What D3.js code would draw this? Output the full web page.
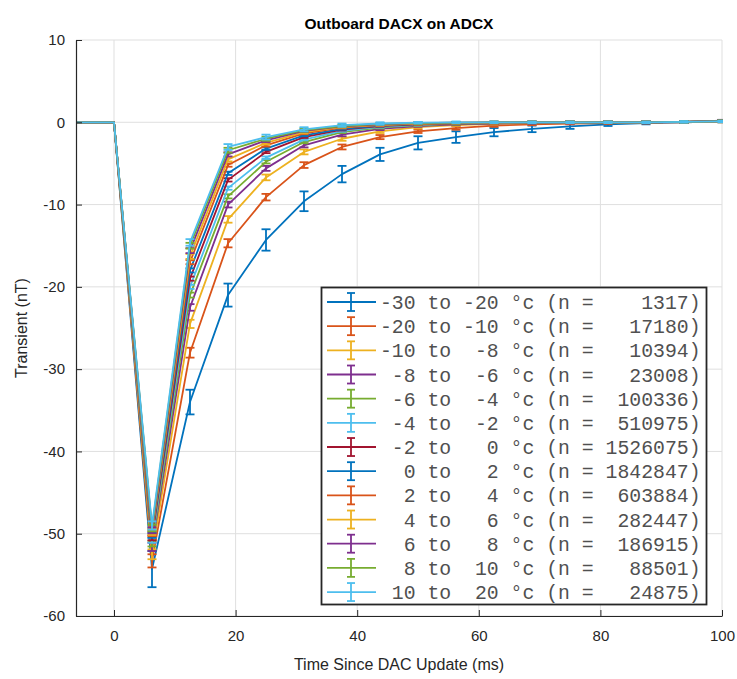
<!DOCTYPE html>
<html><head><meta charset="utf-8">
<script src="https://cdn.jsdelivr.net/npm/d3@7"></script>
<style>
html,body{margin:0;padding:0;background:#fff;}
svg{display:block;}
</style>
</head><body>
<svg id="chart" width="737" height="679"></svg>
<script>
// ---------- DATA ----------
const title = "Outboard DACX on ADCX";
const xLabel = "Time Since DAC Update (ms)";
const yLabel = "Transient (nT)";
const xTicks = [0, 20, 40, 60, 80, 100];
const yTicks = [10, 0, -10, -20, -30, -40, -50, -60];
const times = [-6.25, 0, 6.25, 12.5, 18.75, 25, 31.25, 37.5, 43.75, 50, 56.25, 62.5, 68.75, 75, 81.25, 87.5, 93.75, 100];

const rangeLabels = ["-30 to -20", "-20 to -10", "-10 to  -8", " -8 to  -6", " -6 to  -4", " -4 to  -2", " -2 to   0",
                     "  0 to   2", "  2 to   4", "  4 to   6", "  6 to   8", "  8 to  10", " 10 to  20"];
const counts = [1317, 17180, 10394, 23008, 100336, 510975, 1526075, 1842847, 603884, 282447, 186915, 88501, 24875];
const colors = ["#0072BD", "#D95319", "#EDB120", "#7E2F8E", "#77AC30", "#4DBEEE", "#A2142F",
                "#0072BD", "#D95319", "#EDB120", "#7E2F8E", "#77AC30", "#4DBEEE"];

const means = [
  [0, 0, -54.3, -34.0, -21.0, -14.3, -9.6, -6.3, -3.9, -2.5, -1.8, -1.2, -0.8, -0.5, -0.25, -0.1, 0.0, 0.1],
  [0, 0, -53.3, -28.0, -14.7, -9.1, -5.2, -3.0, -1.8, -1.1, -0.7, -0.4, -0.25, -0.15, -0.1, -0.05, 0.0, 0.1],
  [0, 0, -52.5, -24.5, -11.8, -6.7, -3.6, -2.0, -1.1, -0.6, -0.35, -0.2, -0.1, -0.05, 0, 0, 0.05, 0.1],
  [0, 0, -51.6, -22.5, -10.0, -5.6, -2.8, -1.5, -0.8, -0.45, -0.25, -0.15, -0.1, -0.05, 0, 0, 0.05, 0.15],
  [0, 0, -51.2, -21.0, -9.0, -4.8, -2.4, -1.2, -0.65, -0.35, -0.2, -0.1, -0.05, 0, 0, 0, 0.05, 0.15],
  [0, 0, -50.8, -20.0, -8.0, -4.3, -2.1, -1.05, -0.55, -0.3, -0.15, -0.1, -0.05, 0, 0, 0, 0.05, 0.15],
  [0, 0, -50.5, -19.0, -7.0, -3.6, -1.8, -0.9, -0.45, -0.25, -0.15, -0.1, -0.05, 0, 0, 0, 0.05, 0.15],
  [0, 0, -50.2, -18.0, -6.2, -3.2, -1.6, -0.8, -0.4, -0.2, -0.1, -0.05, 0, 0, 0, 0, 0.05, 0.15],
  [0, 0, -50.0, -17.0, -5.2, -2.8, -1.35, -0.65, -0.35, -0.2, -0.1, -0.05, 0, 0, 0, 0, 0.05, 0.15],
  [0, 0, -49.8, -16.3, -4.5, -2.5, -1.2, -0.55, -0.3, -0.15, -0.1, -0.05, 0, 0, 0, 0, 0.05, 0.15],
  [0, 0, -49.6, -15.6, -3.9, -2.2, -1.05, -0.5, -0.25, -0.1, -0.05, 0, 0, 0, 0, 0, 0.05, 0.2],
  [0, 0, -49.3, -15.0, -3.4, -2.0, -0.95, -0.45, -0.2, -0.1, -0.05, 0, 0, 0, 0, 0, 0.05, 0.15],
  [0, 0, -49.0, -14.6, -3.0, -1.8, -0.85, -0.35, -0.15, -0.05, 0, 0, 0, 0, 0, 0, 0.05, 0.1]
];
const errors = [
  [0, 0, 2.2, 1.5, 1.4, 1.3, 1.2, 1.0, 0.8, 0.8, 0.7, 0.5, 0.4, 0.3, 0.2, 0.15, 0.1, 0.1],
  [0, 0, 0.8, 0.6, 0.5, 0.4, 0.35, 0.3, 0.25, 0.2, 0.2, 0.15, 0.1, 0.1, 0.1, 0.1, 0.1, 0.1],
  [0, 0, 0.6, 0.5, 0.4, 0.35, 0.3, 0.25, 0.2, 0.15, 0.1, 0.1, 0.1, 0.1, 0.1, 0.1, 0.1, 0.1],
  [0, 0, 0.5, 0.4, 0.35, 0.3, 0.25, 0.2, 0.15, 0.1, 0.1, 0.1, 0.1, 0.1, 0.1, 0.1, 0.1, 0.1],
  [0, 0, 0.35, 0.3, 0.25, 0.2, 0.15, 0.1, 0.1, 0.1, 0.1, 0.1, 0.1, 0.1, 0.1, 0.1, 0.1, 0.1],
  [0, 0, 0.3, 0.25, 0.2, 0.15, 0.1, 0.1, 0.1, 0.1, 0.1, 0.1, 0.1, 0.1, 0.1, 0.1, 0.1, 0.1],
  [0, 0, 0.3, 0.25, 0.2, 0.15, 0.1, 0.1, 0.1, 0.1, 0.1, 0.1, 0.1, 0.1, 0.1, 0.1, 0.1, 0.1],
  [0, 0, 0.3, 0.25, 0.2, 0.15, 0.1, 0.1, 0.1, 0.1, 0.1, 0.1, 0.1, 0.1, 0.1, 0.1, 0.1, 0.1],
  [0, 0, 0.3, 0.25, 0.2, 0.15, 0.1, 0.1, 0.1, 0.1, 0.1, 0.1, 0.1, 0.1, 0.1, 0.1, 0.1, 0.1],
  [0, 0, 0.35, 0.3, 0.25, 0.2, 0.15, 0.1, 0.1, 0.1, 0.1, 0.1, 0.1, 0.1, 0.1, 0.1, 0.1, 0.1],
  [0, 0, 0.35, 0.3, 0.25, 0.2, 0.15, 0.1, 0.1, 0.1, 0.1, 0.1, 0.1, 0.1, 0.1, 0.1, 0.1, 0.1],
  [0, 0, 0.4, 0.35, 0.3, 0.25, 0.2, 0.15, 0.1, 0.1, 0.1, 0.1, 0.1, 0.1, 0.1, 0.1, 0.1, 0.1],
  [0, 0, 0.5, 0.4, 0.35, 0.3, 0.25, 0.2, 0.15, 0.1, 0.1, 0.1, 0.1, 0.1, 0.1, 0.1, 0.1, 0.1]
];

// ---------- LAYOUT ----------
const svg = d3.select("#chart");
const M = {left: 76, right: 722, top: 40, bottom: 616};
const x = d3.scaleLinear().domain([-6.25, 100]).range([M.left, M.right]);
const y = d3.scaleLinear().domain([-60, 10]).range([M.bottom, M.top]);
const axisColor = "#262626";
const sansFont = "'Liberation Sans', Arial, Helvetica, sans-serif";

svg.append("rect").attr("x", 0).attr("y", 0).attr("width", 737).attr("height", 679).attr("fill", "#fff");

// grid
const grid = svg.append("g");
grid.selectAll("line.gx").data(xTicks).join("line")
  .attr("x1", d => x(d)).attr("x2", d => x(d)).attr("y1", M.top).attr("y2", M.bottom)
  .attr("stroke", "#dfdfdf").attr("stroke-width", 1);
grid.selectAll("line.gy").data(yTicks).join("line")
  .attr("x1", M.left).attr("x2", M.right).attr("y1", d => y(d)).attr("y2", d => y(d))
  .attr("stroke", "#dfdfdf").attr("stroke-width", 1);

// clip
svg.append("defs").append("clipPath").attr("id", "clip")
  .append("rect").attr("x", M.left).attr("y", M.top - 2).attr("width", M.right - M.left + 1).attr("height", M.bottom - M.top + 2);

const plot = svg.append("g").attr("clip-path", "url(#clip)");
const line = d3.line().x((d, i) => x(times[i])).y(d => y(d));
const capHalf = 4.5;

means.forEach((vals, s) => {
  const g = plot.append("g");
  g.append("path").datum(vals).attr("d", line)
    .attr("fill", "none").attr("stroke", colors[s]).attr("stroke-width", 1.8).attr("stroke-linejoin", "round");
  const pts = vals.map((v, i) => ({t: times[i], v: v, e: errors[s][i]})).filter(p => p.e > 0);
  g.selectAll("line.eb").data(pts).join("line")
    .attr("x1", d => x(d.t)).attr("x2", d => x(d.t))
    .attr("y1", d => y(d.v - d.e)).attr("y2", d => y(d.v + d.e))
    .attr("stroke", colors[s]).attr("stroke-width", 1.8);
  g.selectAll("line.cl").data(pts).join("line")
    .attr("x1", d => x(d.t) - capHalf).attr("x2", d => x(d.t) + capHalf)
    .attr("y1", d => y(d.v - d.e)).attr("y2", d => y(d.v - d.e))
    .attr("stroke", colors[s]).attr("stroke-width", 1.8);
  g.selectAll("line.ch").data(pts).join("line")
    .attr("x1", d => x(d.t) - capHalf).attr("x2", d => x(d.t) + capHalf)
    .attr("y1", d => y(d.v + d.e)).attr("y2", d => y(d.v + d.e))
    .attr("stroke", colors[s]).attr("stroke-width", 1.8);
});

// axes
const fmt = d => String(d);
const xAxis = d3.axisBottom(x).tickValues(xTicks).tickFormat(fmt).tickSizeInner(-6).tickSizeOuter(0).tickPadding(14);
const yAxis = d3.axisLeft(y).tickValues(yTicks).tickFormat(fmt).tickSizeInner(-6).tickSizeOuter(0).tickPadding(11);
const gx = svg.append("g").attr("transform", `translate(0,${M.bottom})`).call(xAxis);
const gy = svg.append("g").attr("transform", `translate(${M.left},0)`).call(yAxis);
[gx, gy].forEach(g => {
  g.select(".domain").attr("stroke", axisColor).attr("stroke-width", 1.2);
  g.selectAll(".tick line").attr("stroke", axisColor).attr("stroke-width", 1);
  g.selectAll(".tick text").attr("fill", axisColor).style("font-family", sansFont).style("font-size", "15px");
});

// labels
svg.append("text").attr("x", (M.left + M.right) / 2).attr("y", 29).attr("text-anchor", "middle")
  .style("font-family", sansFont).style("font-size", "15.5px").style("font-weight", "bold").attr("fill", "#000").text(title);
svg.append("text").attr("x", (M.left + M.right) / 2).attr("y", 670).attr("text-anchor", "middle")
  .style("font-family", sansFont).style("font-size", "16px").attr("fill", axisColor).text(xLabel);
svg.append("text").attr("transform", `translate(27,${(M.top + M.bottom) / 2}) rotate(-90)`).attr("text-anchor", "middle")
  .style("font-family", sansFont).style("font-size", "16px").attr("fill", axisColor).text(yLabel);

// legend
const L = {x: 321.5, y: 287.5, w: 385, h: 317, row0: 302, dy: 24.17};
const lg = svg.append("g");
lg.append("rect").attr("x", L.x).attr("y", L.y).attr("width", L.w).attr("height", L.h)
  .attr("fill", "#fff").attr("stroke", axisColor).attr("stroke-width", 1.8);
rangeLabels.forEach((lab, i) => {
  const cy = L.row0 + i * L.dy;
  const row = lg.append("g");
  row.append("line").attr("x1", 327).attr("x2", 376).attr("y1", cy).attr("y2", cy)
    .attr("stroke", colors[i]).attr("stroke-width", 1.8);
  row.append("line").attr("x1", 351).attr("x2", 351).attr("y1", cy - 9).attr("y2", cy + 9)
    .attr("stroke", colors[i]).attr("stroke-width", 1.8);
  [cy - 9, cy + 9].forEach(yy => row.append("line").attr("x1", 347).attr("x2", 355).attr("y1", yy).attr("y2", yy)
    .attr("stroke", colors[i]).attr("stroke-width", 1.8));
  const nStr = String(counts[i]).padStart(7, " ");
  row.append("text").attr("x", 380).attr("y", cy).attr("dy", "0.36em")
    .attr("xml:space", "preserve").style("white-space", "pre")
    .style("font-family", "'Liberation Mono', 'Courier New', monospace").style("font-size", "19.8px")
    .attr("fill", "#505050").text(`${lab} °c (n = ${nStr})`);
});
</script>
</body></html>
